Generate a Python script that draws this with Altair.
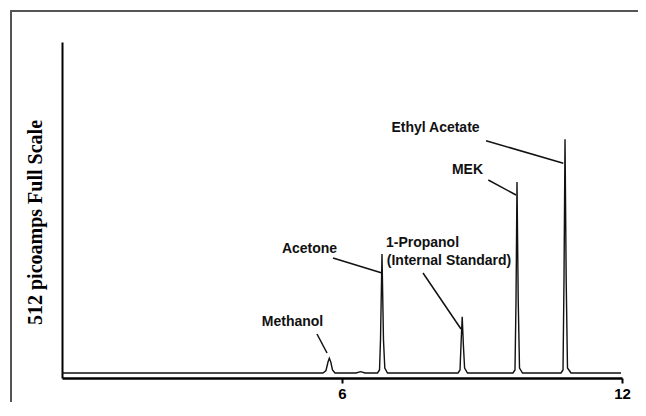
import altair as alt
import pandas as pd

# Chromatogram trace (retention time in minutes, signal in % of full scale)
trace_t = [0.0, 5.593, 5.657, 5.700, 5.728, 5.760, 5.796, 5.850,
           6.300, 6.401, 6.493,
           6.761, 6.804, 6.825, 6.857, 6.889, 6.917, 6.975,
           8.486, 8.529, 8.550, 8.576, 8.601, 8.627, 8.689,
           9.664, 9.707, 9.729, 9.750, 9.776, 9.804, 9.868,
           10.693, 10.736, 10.757, 10.779, 10.804, 10.832, 10.907,
           11.979]
trace_v = [1.49, 1.49, 2.23, 4.76, 5.86, 4.76, 2.38, 1.49,
           1.49, 1.88, 1.49,
           1.49, 2.38, 11.31, 36.90, 11.31, 2.98, 1.49,
           1.49, 2.38, 9.82, 18.24, 9.82, 2.98, 1.49,
           1.49, 2.38, 23.21, 58.33, 23.21, 2.98, 1.49,
           1.49, 2.38, 29.17, 71.04, 29.17, 2.98, 1.49,
           1.49]

# Peak labels
label_text = ["Methanol", "Acetone", "1-Propanol", "(Internal Standard)", "MEK", "Ethyl Acetate"]
label_t = [4.939, 5.304, 7.725, 8.293, 8.689, 8.004]
label_v = [16.52, 38.39, 40.18, 34.82, 61.90, 74.32]

# Leader lines
lead_t1 = [5.464, 5.807, 7.736, 9.135, 9.086]
lead_v1 = [13.10, 35.71, 31.25, 58.93, 70.63]
lead_t2 = [5.679, 6.857, 8.550, 9.729, 10.742]
lead_v2 = [7.44, 31.25, 14.58, 54.46, 63.90]

x_ticks = [6, 12]

trace = pd.DataFrame({"t": trace_t, "v": trace_v, "i": list(range(len(trace_t)))})
labels = pd.DataFrame({"t": label_t, "v": label_v, "text": label_text})
leads = pd.DataFrame({"t1": lead_t1, "v1": lead_v1, "t2": lead_t2, "v2": lead_v2})

xscale = alt.Scale(domain=[0, 12], nice=False, zero=False)
yscale = alt.Scale(domain=[0, 100], nice=False)

xaxis = alt.Axis(values=x_ticks, title="Retention time (min)", grid=False,
                 domainColor="#000", domainWidth=2.5, tickColor="#000", tickWidth=2,
                 tickSize=5, labelFont="Liberation Sans", labelFontWeight="bold",
                 labelFontSize=15, labelColor="#000", labelPadding=3,
                 titleFont="Liberation Serif", titleFontWeight="bold", titleFontSize=19,
                 titleColor="#000", titleX=280, titleY=23, titleBaseline="top",
                 titleAlign="center", labelFlush=False)
yaxis = alt.Axis(title="512 picoamps Full Scale", grid=False, ticks=False, labels=False,
                 domainColor="#000", domainWidth=2,
                 titleFont="Liberation Serif", titleFontWeight="bold", titleFontSize=20,
                 titleColor="#000", titleX=-27, titleY=180, titleAngle=270,
                 titleAlign="center", titleBaseline="middle")

frame_top = alt.Chart(pd.DataFrame({"a": [0]})).mark_rule(
    color="#555", strokeWidth=2
).encode(x=alt.value(-52), x2=alt.value(576), y=alt.value(-31))
frame_left = alt.Chart(pd.DataFrame({"a": [0]})).mark_rule(
    color="#555", strokeWidth=2
).encode(x=alt.value(-51), y=alt.value(-32), y2=alt.value(360))

line = alt.Chart(trace).mark_line(color="#111", strokeWidth=1.4).encode(
    x=alt.X("t:Q", scale=xscale, axis=xaxis),
    y=alt.Y("v:Q", scale=yscale, axis=yaxis),
    order="i:Q",
)

rules = alt.Chart(leads).mark_rule(color="#111", strokeWidth=1.5).encode(
    x=alt.X("t1:Q", scale=xscale), y=alt.Y("v1:Q", scale=yscale),
    x2="t2:Q", y2="v2:Q",
)

text = alt.Chart(labels).mark_text(
    font="Liberation Sans", fontWeight="bold", fontSize=14, color="#111",
    align="center", baseline="middle"
).encode(x=alt.X("t:Q", scale=xscale), y=alt.Y("v:Q", scale=yscale), text="text:N")

chart = alt.layer(frame_top, frame_left, line, rules, text).properties(
    width=560, height=336,
    autosize=alt.AutoSizeParams(type="none"),
    padding={"left": 54, "top": 34, "right": 16, "bottom": 24},
    background="white",
).configure_view(strokeWidth=0)

chart.save("out.html", embed_options={"renderer": "svg", "actions": False})
